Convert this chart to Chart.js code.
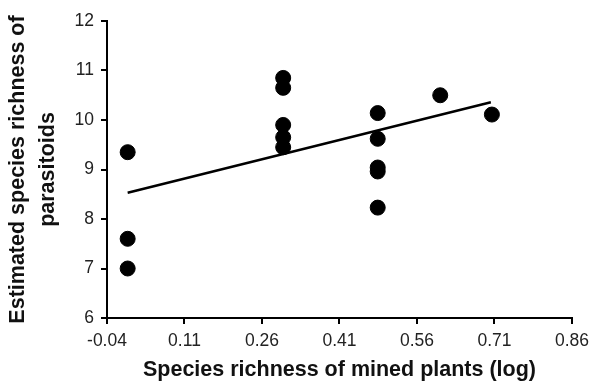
<!doctype html>
<html lang="en">
<head>
    <meta charset="utf-8">
    <title>Parasitoid richness vs mined plants</title>
    <script src="https://cdn.jsdelivr.net/npm/chart.js@4.4.1/dist/chart.umd.min.js"></script>
    <style>
        body { margin: 0; background: #fff; }
    </style>
</head>
<body>
    <canvas id="myChart" width="596" height="381"></canvas>
    <script>
        // points
        const plantsLog = [0, 0, 0, 0.301, 0.301, 0.301, 0.301, 0.301, 0.484, 0.484, 0.484, 0.484, 0.484, 0.605, 0.705];
        const parasitoids = [9.35, 7.6, 7.0, 10.85, 10.65, 9.9, 9.65, 9.45, 10.14, 9.62, 9.04, 8.96, 8.23, 10.5, 10.11];

        // regression line end points
        const fitX = [0, 0.703];
        const fitY = [8.53, 10.36];

        const xTicks = [-0.04, 0.11, 0.26, 0.41, 0.56, 0.71, 0.86];
        const yTicks = [6, 7, 8, 9, 10, 11, 12];

        const font = "'Liberation Sans', Arial, sans-serif";

        const points = plantsLog.map(function (x, i) { return { x: x, y: parasitoids[i] }; });
        const line = fitX.map(function (x, i) { return { x: x, y: fitY[i] }; });

        const axisLook = {
            grid: { display: true, drawOnChartArea: false, drawTicks: true, tickLength: 6, color: '#000', lineWidth: 2 },
            border: { display: true, color: '#000', width: 2 }
        };

        new Chart(document.getElementById('myChart'), {
            type: 'scatter',
            data: {
                datasets: [{
                    label: 'sites',
                    data: points,
                    backgroundColor: '#000',
                    borderColor: '#000',
                    pointRadius: 7.5,
                    pointHoverRadius: 7.5
                }, {
                    type: 'line',
                    label: 'fit',
                    data: line,
                    borderColor: '#000',
                    borderWidth: 2.5,
                    pointRadius: 0,
                    fill: false
                }]
            },
            options: {
                responsive: false,
                animation: false,
                layout: { padding: { left: 0, right: 21, top: 21, bottom: 0 } },
                plugins: { legend: { display: false }, tooltip: { enabled: false } },
                scales: {
                    x: Object.assign({}, axisLook, {
                        type: 'linear',
                        min: -0.04,
                        max: 0.86,
                        afterBuildTicks: function (s) { s.ticks = xTicks.map(function (v) { return { value: v }; }); },
                        afterFit: function (s) { s.height = 63; },
                        ticks: {
                            color: '#222',
                            padding: 7,
                            font: { family: font, size: 17.5 },
                            maxRotation: 0,
                            callback: function (v) { return v.toFixed(2); }
                        },
                        title: {
                            display: true,
                            text: 'Species richness of mined plants (log)',
                            color: '#111',
                            font: { family: font, size: 21.5, weight: 'bold', lineHeight: 1.0 },
                            padding: { top: 0, bottom: 0 }
                        }
                    }),
                    y: Object.assign({}, axisLook, {
                        type: 'linear',
                        min: 6,
                        max: 12,
                        afterBuildTicks: function (s) { s.ticks = yTicks.map(function (v) { return { value: v }; }); },
                        afterFit: function (s) { s.width = 107; },
                        ticks: {
                            color: '#222',
                            padding: 7,
                            font: { family: font, size: 17.5 }
                        },
                        title: {
                            display: true,
                            text: ['Estimated species richness of', 'parasitoids'],
                            color: '#111',
                            font: { family: font, size: 21.5, weight: 'bold', lineHeight: 1.4 },
                            padding: { top: 3, bottom: 0 }
                        }
                    })
                }
            }
        });
    </script>
</body>
</html>
